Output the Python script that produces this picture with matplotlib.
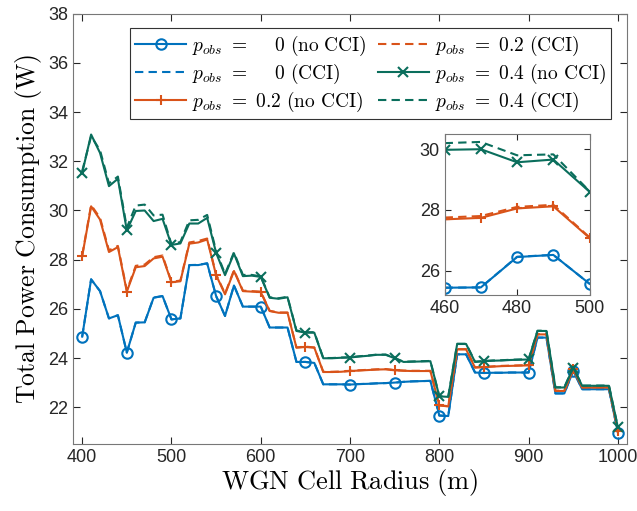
import numpy as np
import matplotlib
matplotlib.use("Agg")
import matplotlib.pyplot as plt

plt.rcParams['mathtext.fontset'] = 'cm'
plt.rcParams['font.family'] = ['Liberation Sans', 'DejaVu Sans']

radius = np.arange(400, 1001, 10)

# p_obs = 0
p0_no_cci = [24.87, 27.20, 26.72, 25.61, 25.74, 24.22, 25.44, 25.45, 26.45, 26.52,
             25.57, 25.61, 27.78, 27.78, 27.85, 26.52, 25.71, 26.95, 26.09, 26.09,
             26.09, 25.24, 25.24, 25.24, 23.84, 23.84, 23.80, 22.93, 22.93, 22.93,
             22.92, 22.94, 22.95, 22.97, 22.98, 23.00, 23.03, 23.05, 23.06, 23.07,
             21.66, 21.64, 24.15, 24.15, 23.41, 23.39, 23.40, 23.40, 23.41, 23.41,
             23.41, 24.83, 24.83, 22.56, 22.56, 23.48, 22.73, 22.73, 22.73, 22.73,
             20.97]
p0_cci = [24.87, 27.20, 26.72, 25.61, 25.74, 24.22, 25.44, 25.45, 26.46, 26.52,
          25.57, 25.61, 27.78, 27.79, 27.85, 26.52, 25.71, 26.95, 26.09, 26.09,
          26.09, 25.24, 25.24, 25.24, 23.84, 23.84, 23.80, 22.93, 22.93, 22.93,
          22.92, 22.94, 22.95, 22.97, 22.98, 23.00, 23.03, 23.05, 23.06, 23.07,
          21.66, 21.64, 24.15, 24.15, 23.41, 23.39, 23.40, 23.40, 23.41, 23.41,
          23.41, 24.83, 24.83, 22.56, 22.56, 23.48, 22.73, 22.73, 22.73, 22.73,
          20.97]

# p_obs = 0.2
p02_no_cci = [28.14, 30.17, 29.63, 28.31, 28.51, 26.70, 27.69, 27.74, 28.05, 28.12,
              27.08, 27.12, 28.65, 28.70, 28.82, 27.37, 26.59, 27.54, 26.72, 26.70,
              26.68, 25.91, 25.84, 25.84, 24.42, 24.45, 24.42, 23.43, 23.43, 23.44,
              23.47, 23.49, 23.51, 23.53, 23.54, 23.50, 23.48, 23.47, 23.47, 23.47,
              22.07, 22.03, 24.35, 24.35, 23.61, 23.63, 23.65, 23.67, 23.68, 23.69,
              23.70, 24.96, 24.96, 22.66, 22.66, 23.54, 22.80, 22.80, 22.80, 22.80,
              21.05]
p02_cci = [28.18, 30.22, 29.70, 28.38, 28.56, 26.75, 27.75, 27.80, 28.10, 28.17,
           27.10, 27.15, 28.70, 28.76, 28.86, 27.40, 26.62, 27.57, 26.74, 26.72,
           26.70, 25.92, 25.85, 25.85, 24.43, 24.46, 24.43, 23.44, 23.44, 23.45,
           23.48, 23.50, 23.52, 23.54, 23.55, 23.51, 23.49, 23.48, 23.48, 23.48,
           22.08, 22.04, 24.36, 24.36, 23.62, 23.64, 23.66, 23.68, 23.69, 23.70,
           23.71, 24.97, 24.97, 22.67, 22.67, 23.55, 22.81, 22.81, 22.81, 22.81,
           21.06]

# p_obs = 0.4
p04_no_cci = [31.53, 33.09, 32.34, 30.99, 31.29, 29.19, 29.98, 30.00, 29.57, 29.66,
              28.60, 28.66, 29.47, 29.47, 29.70, 28.28, 27.37, 28.25, 27.33, 27.35,
              27.30, 26.45, 26.41, 26.47, 25.10, 25.03, 25.03, 23.99, 23.99, 24.01,
              24.02, 24.06, 24.09, 24.13, 24.13, 23.99, 23.84, 23.85, 23.86, 23.87,
              22.44, 22.42, 24.57, 24.57, 23.84, 23.87, 23.89, 23.90, 23.92, 23.93,
              23.94, 25.10, 25.10, 22.80, 22.80, 23.61, 22.87, 22.87, 22.87, 22.87,
              21.18]
p04_cci = [31.60, 33.02, 32.45, 31.10, 31.38, 29.30, 30.20, 30.24, 29.80, 29.83,
           28.62, 28.72, 29.60, 29.62, 29.82, 28.35, 27.42, 28.30, 27.38, 27.38,
           27.32, 26.47, 26.43, 26.49, 25.12, 25.05, 25.05, 24.00, 24.00, 24.02,
           24.03, 24.07, 24.10, 24.14, 24.14, 24.00, 23.85, 23.86, 23.87, 23.88,
           22.45, 22.43, 24.58, 24.58, 23.85, 23.88, 23.90, 23.91, 23.93, 23.94,
           23.95, 25.11, 25.11, 22.81, 22.81, 23.62, 22.88, 22.88, 22.88, 22.88,
           21.19]

blue = '#0072BD'
orange = '#D95319'
green = '#0A6E5C'

series = [
    (p0_no_cci, blue, '-', 'o', r'$p_{obs}\ =\ \;\;\;\; 0\ \mathrm{(no\ CCI)}$'),
    (p0_cci, blue, '--', None, r'$p_{obs}\ =\ \;\;\;\; 0\ \mathrm{(CCI)}$'),
    (p02_no_cci, orange, '-', '+', r'$p_{obs}\ =\ 0.2\ \mathrm{(no\ CCI)}$'),
    (p02_cci, orange, '--', None, r'$p_{obs}\ =\ 0.2\ \mathrm{(CCI)}$'),
    (p04_no_cci, green, '-', 'x', r'$p_{obs}\ =\ 0.4\ \mathrm{(no\ CCI)}$'),
    (p04_cci, green, '--', None, r'$p_{obs}\ =\ 0.4\ \mathrm{(CCI)}$'),
]
msize = {'o': 7.5, '+': 7.5, 'x': 6.5}

fig = plt.figure(figsize=(6.37, 5.11), dpi=100)
ax = fig.add_axes([0.115, 0.131, 0.869, 0.842])

for y, c, ls, mk, lab in series:
    ax.plot(radius, y, color=c, linestyle=ls, linewidth=1.5, marker=mk,
            markevery=5, markersize=msize.get(mk, 7), markerfacecolor='none',
            markeredgewidth=1.5, label=lab,
            dashes=(4, 2.5) if ls == '--' else (None, None))

ax.set_xlim(390, 1010)
ax.set_ylim(20.5, 38)
ax.set_xticks([400, 500, 600, 700, 800, 900, 1000])
ax.set_yticks([22, 24, 26, 28, 30, 32, 34, 36, 38])
ax.set_xlabel(r'$\mathrm{WGN\ Cell\ Radius\ (m)}$', fontsize=19, labelpad=1)
ax.set_ylabel(r'$\mathrm{Total\ Power\ Consumption\ (W)}$', fontsize=18.5, labelpad=3)

ax.tick_params(direction='in', top=True, right=True, labelsize=13,
               colors='#262626', length=5, width=0.8)
for sp in ax.spines.values():
    sp.set_color('#777777')
    sp.set_linewidth(0.8)

leg = ax.legend(ncol=2, loc='upper right', bbox_to_anchor=(0.972, 0.968),
                fontsize=14, frameon=True, fancybox=False, framealpha=1,
                edgecolor='#333333', handlelength=2.6, handletextpad=0.3,
                columnspacing=0.6, labelspacing=0.2, borderpad=0.3,
                borderaxespad=0)
leg.get_frame().set_linewidth(0.8)

# zoomed view of 460-500 m
ins = fig.add_axes([0.698, 0.4227, 0.2275, 0.315])
mask = (radius >= 460) & (radius <= 500)
for y, c, ls, mk, lab in series:
    ins.plot(radius[mask], np.array(y)[mask], color=c, linestyle=ls,
             linewidth=1.5, marker=mk, markersize=msize.get(mk, 7),
             markerfacecolor='none', markeredgewidth=1.5,
             dashes=(4, 2.5) if ls == '--' else (None, None))
ins.set_xlim(460, 500)
ins.set_ylim(25.2, 30.5)
ins.set_xticks([460, 480, 500])
ins.set_yticks([26, 28, 30])
ins.tick_params(direction='in', top=True, right=True, labelsize=13,
                colors='#262626', length=4, width=0.8)
for sp in ins.spines.values():
    sp.set_color('#777777')
    sp.set_linewidth(0.8)

fig.savefig('out.png', dpi=100)
